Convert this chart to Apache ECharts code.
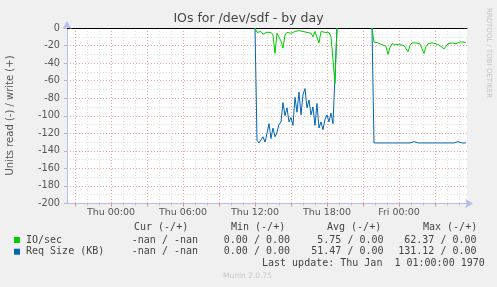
<!DOCTYPE html>
<html><head><meta charset="utf-8">
<script src="https://cdn.jsdelivr.net/npm/echarts@6/dist/echarts.min.js"></script>
<style>html,body{margin:0;padding:0;background:#f0f0f0;}#c{width:497px;height:287px;}</style>
</head><body><div id="c"></div>
<script>
const chartTitle = 'IOs for /dev/sdf - by day';
const yAxisName = 'Units read (-) / write (+)';
const xLabelHours = [0, 6, 12, 18, 24];
const xLabelTexts = ['Thu 00:00', 'Thu 06:00', 'Thu 12:00', 'Thu 18:00', 'Fri 00:00'];
const seriesNames = ['IO/sec', 'Req Size (KB)'];
const seriesColors = ['#00cc00', '#0066b3'];
// hours relative to Thu 00:00
const xMinHour = -3.6667;
const xMaxHour = 29.6667;
const block1Start = 12.0;
const block2Start = 21.75;
const sampleStep = 1 / 6; // 10 minutes

const ioBlock1 = [0, -5, -6, -4, -7, -5, -5, -6, -5, -8, -29, -6, -5, -15, -23, -8, -5, -4, -6, -4,
  -4, -6, -3, -5, -4, -3, -5, -4, -6, -10, -4, -3, -17, -4, -3, -5, -4, -5, -10, -8, -63, 0];
const reqBlock1 = [0, -128, -131, -130, -124, -130, -120, -109, -126, -114, -124, -119, -110, -107, -85, -100,
  -91, -107, -102, -111, -79, -96, -73, -99, -76, -69, -91, -82, -99, -90, -111, -86, -114, -107, -116, -104,
  -99, -107, -97, -109, -110, 0];
const ioBlock2 = [0, -16, -16, -17, -17, -19, -18, -21, -30, -22, -18, -18, -19, -18, -19, -18, -20, -22, -27,
  -20, -17, -18, -17, -19, -18, -20, -29, -21, -18, -19, -17, -18, -18, -19, -20, -22, -24, -21, -18, -16, -17,
  -16, -18, -17, -16, -17, -16, -17];
const reqBlock2 = [0, -131, -131, -131, -131, -131, -131, -131, -131, -131, -129.5, -131, -131, -131, -131, -131,
  -131, -131, -131, -131, -131, -129.5, -131, -131, -131, -131, -131, -131, -129.5, -131, -131, -131, -131, -131,
  -131, -131, -131, -131, -129.5, -131, -131, -131, -131, -129.5, -131, -131, -131, -131];

const legendHeaders = ['Cur (-/+)', 'Min (-/+)', 'Avg (-/+)', 'Max (-/+)'];
const legendCur = ['-nan / -nan', '-nan / -nan'];
const legendMin = ['0.00 / 0.00', '0.00 / 0.00'];
const legendAvg = ['5.75 / 0.00', '51.47 / 0.00'];
const legendMax = ['62.37 / 0.00', '131.12 / 0.00'];
const lastUpdate = 'Last update: Thu Jan  1 01:00:00 1970';
const sideText = 'RRDTOOL / TOBI OETIKER';
const footerText = 'Munin 2.0.75';

function pairs(start, vals) { return vals.map((v, i) => [start + i * sampleStep, v]); }
const hourTicks = []; for (let h = -3; h <= 29; h++) hourTicks.push(h);
const majorTicks = []; for (let h = -3; h <= 29; h += 3) majorTicks.push(h);

const chart = echarts.init(document.getElementById('c'), null, {renderer: 'canvas'});
const mono = 'DejaVu Sans Mono';
const txtColor = '#444';
const graphics = [
  {type: 'text', left: 'center', top: 12, style: {text: chartTitle, font: '12.5px "DejaVu Sans"', fill: '#444'}},
  {type: 'text', x: 10, y: 115.5, rotation: Math.PI / 2, style: {text: yAxisName, font: '10px "DejaVu Sans"', fill: '#555', align: 'center', verticalAlign: 'middle'}},
  {type: 'text', x: 489, y: 53, rotation: -Math.PI / 2, style: {text: sideText, font: '7px "DejaVu Sans"', fill: '#c4c4c4', align: 'center', verticalAlign: 'middle'}},
  {type: 'text', x: 247.5, y: 276, style: {text: footerText, font: '7.5px "DejaVu Sans"', fill: '#c8c8c8', align: 'center', verticalAlign: 'middle'}},
  {type: 'text', x: 262, y: 263.3, style: {text: lastUpdate, font: '10px "' + mono + '"', fill: txtColor, align: 'left', verticalAlign: 'middle'}}
];
const headerX = [134, 231, 327, 423];
legendHeaders.forEach((h, i) => graphics.push({type: 'text', x: headerX[i], y: 227.3, style: {text: h, font: '10px "' + mono + '"', fill: txtColor, align: 'left', verticalAlign: 'middle'}}));
const rowY = [240, 251.7];
const colRight = [198, 290, 383.5, 476.5];
const cols = [legendCur, legendMin, legendAvg, legendMax];
seriesNames.forEach((n, r) => {
  graphics.push({type: 'rect', shape: {x: 14, y: rowY[r] - 3, width: 6, height: 6}, style: {fill: seriesColors[r]}});
  graphics.push({type: 'text', x: 26, y: rowY[r], style: {text: n, font: '10px "' + mono + '"', fill: txtColor, align: 'left', verticalAlign: 'middle'}});
  cols.forEach((c, k) => graphics.push({type: 'text', x: colRight[k], y: rowY[r], style: {text: c[r], font: '10px "' + mono + '"', fill: txtColor, align: 'right', verticalAlign: 'middle'}}));
});

const axisBlue = '#b4bcee';
const option = {
  animation: false,
  backgroundColor: '#f0f0f0',
  grid: {left: 67, right: 30, top: 28, bottom: 83.5, show: true, backgroundColor: '#ffffff', borderWidth: 0},
  xAxis: [
    {type: 'value', min: xMinHour, max: xMaxHour, position: 'bottom',
      axisLine: {show: true, onZero: false, lineStyle: {color: axisBlue}, symbol: ['none', 'arrow'], symbolSize: [7, 8], symbolOffset: [0, 6]},
      axisTick: {show: true, length: 2, customValues: hourTicks, lineStyle: {color: '#bbbbbb'}},
      axisLabel: {show: false},
      splitLine: {show: true, lineStyle: {color: '#dcdcdc', type: [1, 2]}}},
    {type: 'value', min: xMinHour, max: xMaxHour, position: 'bottom',
      axisLine: {show: false, onZero: false},
      axisTick: {show: true, length: 3, customValues: majorTicks, lineStyle: {color: '#e88888'}},
      axisLabel: {show: true, customValues: xLabelHours, margin: 4, fontFamily: 'DejaVu Sans', fontSize: 9.5, color: '#555',
        formatter: v => xLabelTexts[xLabelHours.indexOf(Math.round(v))] || ''},
      splitLine: {show: true, lineStyle: {color: '#eaa4a4', type: [1, 2]}}},
    {type: 'value', min: xMinHour, max: xMaxHour, position: 'top',
      axisLine: {show: true, onZero: false, lineStyle: {color: '#000000', width: 1}},
      axisTick: {show: false}, axisLabel: {show: false}, splitLine: {show: false}}
  ],
  yAxis: {type: 'value', min: -200, max: 0, interval: 20,
    axisLine: {show: true, onZero: false, lineStyle: {color: axisBlue}, symbol: ['none', 'arrow'], symbolSize: [7, 8], symbolOffset: [0, 7]},
    axisTick: {show: true, length: 3, lineStyle: {color: '#bbbbbb'}},
    axisLabel: {fontFamily: 'DejaVu Sans', fontSize: 9.7, color: '#555', margin: 7},
    splitLine: {show: true, lineStyle: {color: '#eaa4a4', type: [1, 2]}},
    minorTick: {show: false, splitNumber: 2},
    minorSplitLine: {show: true, lineStyle: {color: '#dcdcdc', type: [1, 2]}}},
  series: [
    {name: seriesNames[1], type: 'line', xAxisIndex: 0, data: pairs(block1Start, reqBlock1), showSymbol: false, lineStyle: {color: seriesColors[1], width: 1}, z: 3},
    {name: seriesNames[1], type: 'line', xAxisIndex: 0, data: pairs(block2Start, reqBlock2), showSymbol: false, lineStyle: {color: seriesColors[1], width: 1}, z: 3},
    {name: seriesNames[0], type: 'line', xAxisIndex: 0, data: pairs(block1Start, ioBlock1), showSymbol: false, lineStyle: {color: seriesColors[0], width: 1}, z: 4},
    {name: seriesNames[0], type: 'line', xAxisIndex: 0, data: pairs(block2Start, ioBlock2), showSymbol: false, lineStyle: {color: seriesColors[0], width: 1}, z: 4}
  ],
  graphic: graphics
};
chart.setOption(option);
</script></body></html>
